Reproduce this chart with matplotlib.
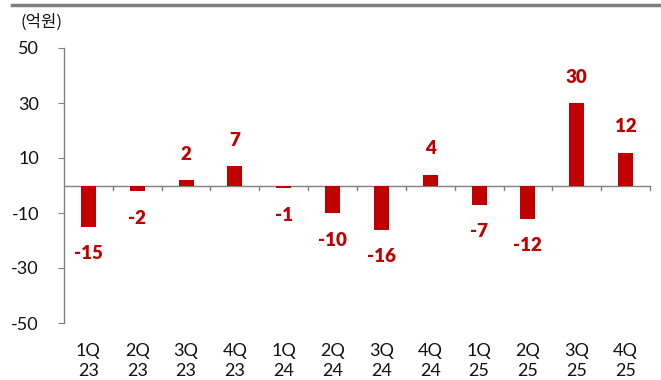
import matplotlib.pyplot as plt
import matplotlib.lines as mlines

plt.rcParams['font.family'] = ['Lato', 'Noto Sans CJK KR', 'DejaVu Sans']

quarters = ['1Q\n23', '2Q\n23', '3Q\n23', '4Q\n23', '1Q\n24', '2Q\n24',
            '3Q\n24', '4Q\n24', '1Q\n25', '2Q\n25', '3Q\n25', '4Q\n25']
values = [-15, -2, 2, 7, -1, -10, -16, 4, -7, -12, 30, 12]
yticks = [-50, -30, -10, 10, 30, 50]

red = '#C00000'
gray = '#808080'

fig = plt.figure(figsize=(6.61, 3.8), dpi=100)
ax = fig.add_axes([64/661, 1-323/380, 586/661, 275/380])

x = list(range(len(values)))
ax.bar(x, values, width=0.31, color=red, zorder=3)
ax.set_xlim(-0.5, len(values)-0.5)
ax.set_ylim(-50, 50)
ax.set_yticks(yticks)
ax.set_yticklabels([str(t) for t in yticks], fontsize=13, color='#111111')
ax.tick_params(axis='y', length=4, width=0.8, color=gray, pad=14)
ax.set_xticks([])

for s in ['top', 'right', 'bottom']:
    ax.spines[s].set_visible(False)
ax.spines['left'].set_color(gray)
ax.spines['left'].set_linewidth(1.0)

# zero baseline with category separators
ax.axhline(0, color=gray, lw=1.0, zorder=2)
for b in range(1, len(values)+1):
    ax.plot([b-0.5, b-0.5], [0, -1.8], color=gray, lw=1.0, clip_on=False)

# value labels
for xi, v in zip(x, values):
    off = 18.5 if v >= 0 else -19.5
    ax.annotate(str(v), (xi, v), xytext=(0, off), textcoords='offset points',
                ha='center', va='center', fontsize=13.5, fontweight='heavy',
                color=red)

# category labels under the axis
for xi, q in zip(x, quarters):
    ax.annotate(q, (xi, -50), xytext=(0, -14.5), textcoords='offset points',
                ha='center', va='top', fontsize=13, color='#111111',
                linespacing=1.3, annotation_clip=False)

fig.text(20/661, 1-22/380, '(억원)', fontsize=12, ha='left', va='center', color='#111111',
         family=['Noto Sans CJK KR', 'DejaVu Sans'])
fig.add_artist(mlines.Line2D([12/661, 1.0], [1-5/380, 1-5/380], color=gray, lw=2.5))

fig.savefig('out.png', dpi=100)
